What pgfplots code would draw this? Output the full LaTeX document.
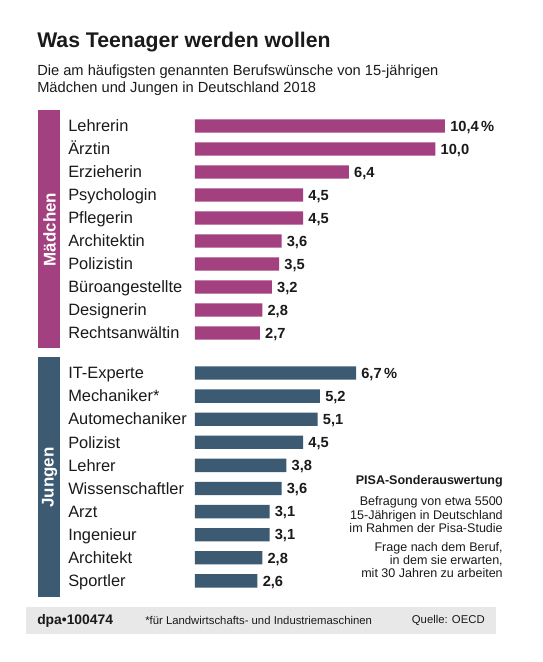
\documentclass[border=0pt]{standalone}
\usepackage{fontspec}
\setmainfont{Liberation Sans}
\usepackage{pgfplots}
\pgfplotsset{compat=1.18}
\definecolor{maed}{HTML}{A3407F}
\definecolor{jung}{HTML}{3D5A73}
\definecolor{foot}{HTML}{E8E8E8}
\definecolor{txt}{HTML}{1A1A1A}

\pgfplotsset{berufe/.style={
  xbar, scale only axis, width=252.4pt,
  xmin=0, xmax=14, ymin=-0.5, ymax=9.5, y dir=reverse,
  axis line style={draw=none}, xtick=\empty, ytick={0,...,9},
  major tick length=0pt, bar width=10pt, bar shift=0pt,
  yticklabel style={anchor=base west, inner sep=0pt, xshift=-95.25pt, yshift=-4.3pt,
    text=txt, font=\fontsize{12.3}{14}\selectfont},
  point meta=explicit symbolic,
  nodes near coords,
  nodes near coords style={anchor=base west, inner sep=0pt, xshift=3.75pt, yshift=-3.9pt,
    text=txt, font=\fontsize{11}{13}\selectfont\bfseries},
  clip=false,
}}

\begin{document}
\begin{tikzpicture}[x=0.75pt,y=-0.75pt]
\fill[white] (0,0) rectangle (543,662);
\coordinate (girls) at (195,114.5);
\coordinate (boys) at (195,361.45);

% Titel
\node[anchor=base west, inner sep=0, text=txt, font=\fontsize{15.9}{18}\selectfont\bfseries] at (37,47) {Was Teenager werden wollen};
\node[anchor=base west, inner sep=0, text=txt, font=\fontsize{11}{13}\selectfont] at (37,75) {Die am häufigsten genannten Berufswünsche von 15-jährigen};
\node[anchor=base west, inner sep=0, text=txt, font=\fontsize{11}{13}\selectfont] at (37,92) {Mädchen und Jungen in Deutschland 2018};

% Seitenbalken
\fill[maed] (38,110) rectangle (60,348);
\node[rotate=90, text=white, inner sep=0, font=\fontsize{12.7}{14}\selectfont\bfseries] at (49.5,229.5) {Mädchen};
\fill[jung] (38,357) rectangle (60,597);
\node[rotate=90, text=white, inner sep=0, font=\fontsize{12.7}{14}\selectfont\bfseries] at (49.5,477.5) {Jungen};

% Mädchen
\begin{axis}[berufe, height=172.5pt, at={(girls)}, anchor=north west,
  yticklabels={Lehrerin,Ärztin,Erzieherin,Psychologin,Pflegerin,Architektin,Polizistin,Büroangestellte,Designerin,Rechtsanwältin}]
\addplot[fill=maed, draw=none] table[x=w, y=r, meta=l] {
r w l
0 10.4 10,4\,\%
1 10.0 10,0
2 6.4 6,4
3 4.5 4,5
4 4.5 4,5
5 3.6 3,6
6 3.5 3,5
7 3.2 3,2
8 2.8 2,8
9 2.7 2,7
};
\end{axis}

% Jungen
\begin{axis}[berufe, height=173.25pt, at={(boys)}, anchor=north west,
  yticklabels={IT-Experte,Mechaniker*,Automechaniker,Polizist,Lehrer,Wissenschaftler,Arzt,Ingenieur,Architekt,Sportler}]
\addplot[fill=jung, draw=none] table[x=w, y=r, meta=l] {
r w l
0 6.7 6,7\,\%
1 5.2 5,2
2 5.1 5,1
3 4.5 4,5
4 3.8 3,8
5 3.6 3,6
6 3.1 3,1
7 3.1 3,1
8 2.8 2,8
9 2.6 2,6
};
\end{axis}

% Anmerkung
\begin{scope}[every node/.style={anchor=base east, inner sep=0, text=txt, font=\fontsize{9.4}{11}\selectfont}]
\node[font=\fontsize{9.4}{11}\selectfont\bfseries] at (503,484) {PISA-Sonderauswertung};
\node at (503,505.5) {Befragung von etwa 5500};
\node at (503,519) {15-Jährigen in Deutschland};
\node at (503,532) {im Rahmen der Pisa-Studie};
\node at (503,551) {Frage nach dem Beruf,};
\node at (503,564) {in dem sie erwarten,};
\node at (503,577) {mit 30 Jahren zu arbeiten};
\end{scope}

% Fuss
\fill[foot] (26,607) rectangle (496,634);
\node[anchor=west, inner sep=0, text=txt, font=\fontsize{10.4}{12}\selectfont\bfseries] at (37,620.5) {dpa•100474};
\node[anchor=west, inner sep=0, text=txt, font=\fontsize{8.5}{10}\selectfont] at (145,620.5) {*für Landwirtschafts- und Industriemaschinen};
\node[anchor=east, inner sep=0, text=txt, font=\fontsize{8.5}{10}\selectfont] at (485,620.5) {Quelle: OECD};
\end{tikzpicture}
\end{document}
